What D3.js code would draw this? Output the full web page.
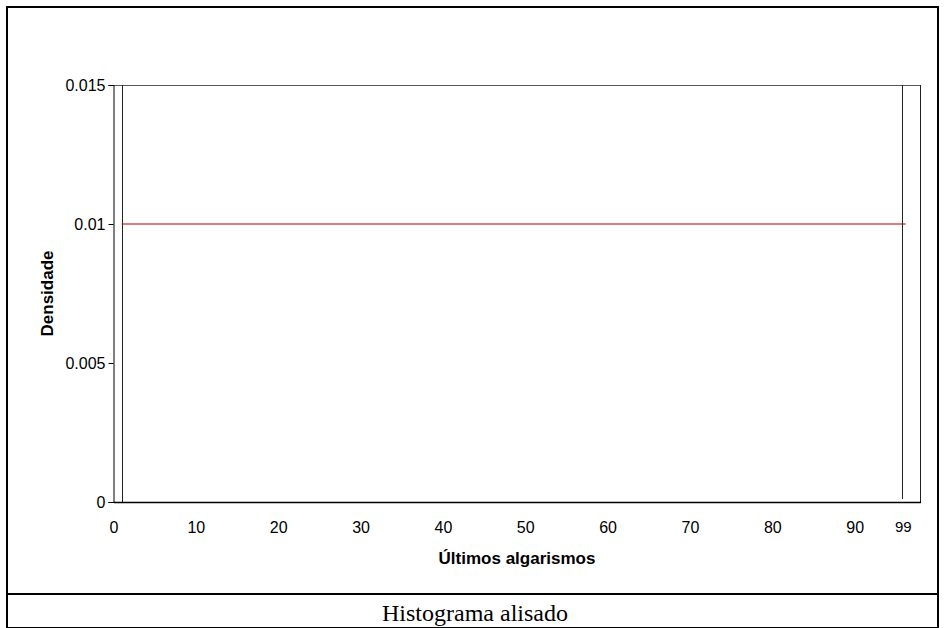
<!DOCTYPE html>
<html><head><meta charset="utf-8">
<script src="https://cdn.jsdelivr.net/npm/d3@7"></script>
<style>body{margin:0;background:#fff}svg{display:block}</style>
</head><body>
<script>
// Data
const xTicks = [0,10,20,30,40,50,60,70,80,90];
const yTicks = [0,0.005,0.01,0.015];
const yTickLabels = ["0","0.005","0.01","0.015"];
const xDomain = [0,98];
const yDomain = [0,0.015];
const boundaryX = [1,95.8];          // vertical boundary lines
const boundaryLabel = "99";          // label under the right boundary
const densityX = [1,96.2];
const densityY = [0.01,0.01];
const xTitle = "Últimos algarismos";
const yTitle = "Densidade";
const caption = "Histograma alisado";

const W = 948, H = 628;
const svg = d3.select("body").append("svg").attr("width",W).attr("height",H);
const sans = "Arial,'Liberation Sans',sans-serif";

// outer frame and caption
svg.append("rect").attr("x",7).attr("y",7).attr("width",931).attr("height",621)
  .attr("fill","none").attr("stroke","#000").attr("stroke-width",2);
svg.append("line").attr("x1",7).attr("x2",938).attr("y1",594).attr("y2",594)
  .attr("stroke","#000").attr("stroke-width",2);
svg.append("text").attr("x",475).attr("y",621).attr("text-anchor","middle")
  .attr("font-family","'Liberation Serif','Times New Roman',serif").attr("font-size",24)
  .text(caption);

const L = 113.5, R = 920.5, T = 85, B = 502;
const x = d3.scaleLinear().domain(xDomain).range([L,R]);
const y = d3.scaleLinear().domain(yDomain).range([B,T]);

// plot frame (top/right)
svg.append("line").attr("x1",L).attr("x2",R).attr("y1",T+0.5).attr("y2",T+0.5).attr("stroke","#555");
svg.append("line").attr("x1",R).attr("x2",R).attr("y1",T).attr("y2",B).attr("stroke","#222");

// boundary lines
svg.selectAll(".bnd").data(boundaryX).enter().append("line")
  .attr("x1",d=>Math.round(x(d))+0.5).attr("x2",d=>Math.round(x(d))+0.5)
  .attr("y1",T).attr("y2",(d,i)=>i===0?B:B-3).attr("stroke","#222");

// density line
const line = d3.line().x(d=>x(d[0])).y(d=>y(d[1]));
svg.append("path").datum(densityX.map((d,i)=>[d,densityY[i]]))
  .attr("d",line).attr("fill","none").attr("stroke","#b00000").attr("stroke-width",1.2);

// y axis
const yAxis = d3.axisLeft(y).tickValues(yTicks).tickFormat((d,i)=>yTickLabels[i]).tickSize(5).tickPadding(3);
const gy = svg.append("g").attr("transform",`translate(${L},0)`).call(yAxis);
gy.selectAll("text").attr("font-family",sans).attr("font-size",16).attr("fill","#000");
gy.select(".domain").attr("stroke","#000");
gy.selectAll(".tick line").attr("stroke","#000");

// x axis
const xAxis = d3.axisBottom(x).tickValues(xTicks).tickFormat(d3.format("d")).tickSize(0).tickPadding(20);
const gx = svg.append("g").attr("transform",`translate(0,${B})`).call(xAxis);
gx.selectAll("text").attr("font-family",sans).attr("font-size",16).attr("fill","#000");
gx.select(".domain").attr("stroke","#000").attr("stroke-width",1.5);

svg.append("text").attr("x",x(boundaryX[1])+1).attr("y",B+30).attr("text-anchor","middle")
  .attr("font-family",sans).attr("font-size",15).text(boundaryLabel);

// titles
svg.append("text").attr("x",(L+R)/2).attr("y",564).attr("text-anchor","middle")
  .attr("font-family",sans).attr("font-size",17).attr("font-weight","bold").text(xTitle);
svg.append("text").attr("transform",`translate(53,${(T+B)/2}) rotate(-90)`).attr("text-anchor","middle")
  .attr("font-family",sans).attr("font-size",17).attr("font-weight","bold").text(yTitle);
</script>
</body></html>
